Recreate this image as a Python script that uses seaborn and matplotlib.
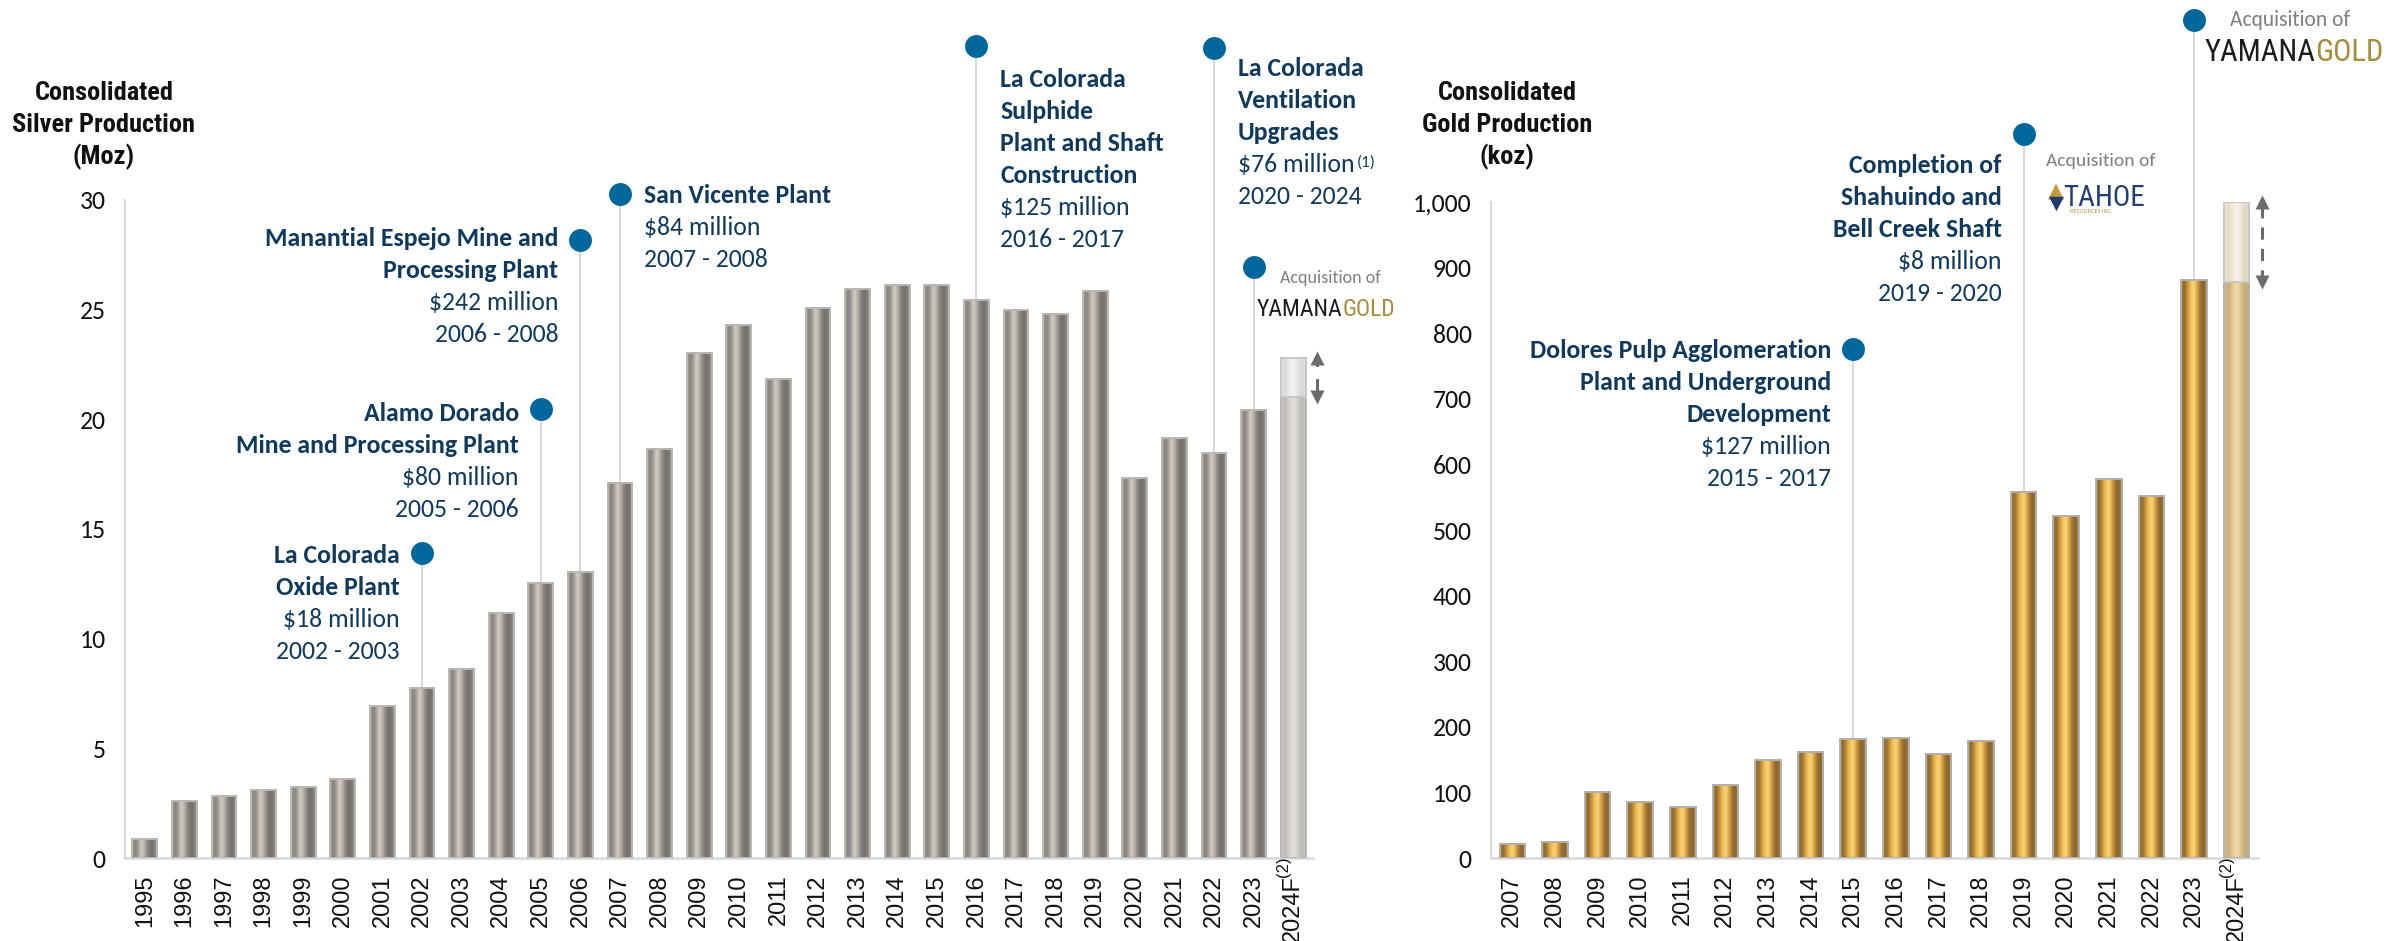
import numpy as np
import pandas as pd
import matplotlib
matplotlib.use("Agg")
import matplotlib.pyplot as plt
import seaborn as sns
from matplotlib import font_manager as fm
from matplotlib.colors import LinearSegmentedColormap
from matplotlib.transforms import offset_copy
from matplotlib.ticker import FuncFormatter

# ---------------- data ----------------
silver_years = ["1995", "1996", "1997", "1998", "1999", "2000", "2001", "2002",
                "2003", "2004", "2005", "2006", "2007", "2008", "2009", "2010",
                "2011", "2012", "2013", "2014", "2015", "2016", "2017", "2018",
                "2019", "2020", "2021", "2022", "2023", "2024F"]
silver_moz = [0.86, 2.60, 2.82, 3.10, 3.22, 3.60, 6.93, 7.75,
              8.63, 11.16, 12.52, 13.02, 17.10, 18.67, 23.03, 24.29,
              21.85, 25.08, 25.96, 26.12, 26.12, 25.42, 24.98, 24.78,
              25.87, 17.31, 19.16, 18.45, 20.44, 21.0]
silver_2024f_high = 22.8
silver_ticks = [0, 5, 10, 15, 20, 25, 30]

gold_years = ["2007", "2008", "2009", "2010", "2011", "2012", "2013", "2014",
              "2015", "2016", "2017", "2018", "2019", "2020", "2021", "2022",
              "2023", "2024F"]
gold_koz = [22, 25, 100, 86, 77, 111, 149, 161,
            182, 183, 159, 178, 558, 522, 578, 552,
            881, 878]
gold_2024f_high = 1000
gold_ticks = [0, 100, 200, 300, 400, 500, 600, 700, 800, 900, 1000]

# capital projects: (year, marker height, side, heading lines, detail lines)
silver_projects = [
    ("2002", 13.9, "left", ["La Colorada", "Oxide Plant"], ["$18 million", "2002 - 2003"]),
    ("2005", 20.47, "left", ["Alamo Dorado", "Mine and Processing Plant"], ["$80 million", "2005 - 2006"]),
    ("2006", 28.18, "left", ["Manantial Espejo Mine and", "Processing Plant"], ["$242 million", "2006 - 2008"]),
    ("2007", 30.28, "right", ["San Vicente Plant"], ["$84 million", "2007 - 2008"]),
    ("2016", 37.0, "right", ["La Colorada", "Sulphide", "Plant and Shaft", "Construction"],
     ["$125 million", "2016 - 2017"]),
    ("2022", 36.95, "right", ["La Colorada", "Ventilation", "Upgrades"], ["$76 million", "2020 - 2024"]),
]
silver_footnote = ("$76 million", "(1)")
silver_acquisition = ("2023", 26.95)

gold_projects = [
    ("2015", 776, "left", ["Dolores Pulp Agglomeration", "Plant and Underground", "Development"],
     ["$127 million", "2015 - 2017"]),
    ("2019", 1103, "left", ["Completion of", "Shahuindo and", "Bell Creek Shaft"],
     ["$8 million", "2019 - 2020"]),
]
gold_acquisitions = [("2019", 1103, "TAHOE"), ("2023", 1278, "YAMANA")]

# ---------------- style ----------------
sns.set_style("white")
installed = {f.name for f in fm.fontManager.ttflist}


def pick(*names):
    for n in names:
        if n in installed:
            return n
    return "DejaVu Sans"


BODY = pick("Carlito", "Lato", "Open Sans")
NARROW = pick("Liberation Sans Narrow", "Roboto Condensed", "Open Sans Condensed",
              "DejaVu Sans Condensed", "Liberation Sans")
AXISF = pick("Liberation Sans", "Arimo", "DejaVu Sans")
plt.rcParams["font.family"] = [BODY, "DejaVu Sans"]

NAVY = "#0f3a5e"
DOT = "#00679d"
LEADER = "#d4d4d4"
SPINE = "#d9d9d9"
PX = 0.72  # points per pixel at 100 dpi

BODY_SIZE = 18.5 if BODY == "Carlito" else 16.5

cm_silver = LinearSegmentedColormap.from_list("silver", [
    "#a9a6a2", "#85817c", "#a39e98", "#d6cec5", "#b7b1aa", "#8c8782",
    "#76726e", "#7b7874", "#a3a09d"])
cm_gold = LinearSegmentedColormap.from_list("gold", [
    "#a98549", "#8c682e", "#c8943c", "#f1c257", "#f8d67a", "#d9a144",
    "#9b7234", "#8a652f", "#a88a55"])
cm_silver_f = LinearSegmentedColormap.from_list("silver_f", [
    "#cfcdcb", "#bdbbb8", "#d5d1cc", "#e6e2de", "#d0ceca", "#bab8b5", "#c8c6c4"])
cm_silver_fh = LinearSegmentedColormap.from_list("silver_fh", [
    "#e4e4e4", "#d9d9d9", "#ebebeb", "#f4f4f4", "#e4e4e4", "#d6d6d6", "#e2e2e2"])
cm_gold_f = LinearSegmentedColormap.from_list("gold_f", [
    "#d6c49f", "#c8ad78", "#e2cb94", "#f0dcaa", "#dcc189", "#c4a873", "#d1bd98"])
cm_gold_fh = LinearSegmentedColormap.from_list("gold_fh", [
    "#eee7da", "#e4d9c4", "#f1e9d9", "#f8f2e8", "#ece3d2", "#e0d4bf", "#ebe3d5"])
GRAD = np.linspace(0, 1, 256).reshape(1, -1)

W, H = 2399, 941
fig = plt.figure(figsize=(W / 100, H / 100), dpi=100)
ax_s = fig.add_axes([125 / W, 83 / H, 1188 / W, 658 / H])
ax_g = fig.add_axes([1491 / W, 83 / H, 767 / W, 656 / H])


def shade(ax, patch, cmap, edge="#b8b8b8"):
    x0, w = patch.get_x(), patch.get_width()
    y0, h = patch.get_y(), patch.get_height()
    ax.imshow(GRAD, cmap=cmap, extent=(x0, x0 + w, y0, y0 + h), aspect="auto",
              interpolation="bicubic", zorder=2)
    patch.set_facecolor("none")
    patch.set_edgecolor(edge)
    patch.set_linewidth(1.4)
    patch.set_zorder(3)


def draw_bars(ax, years, values, high, width, cm, cm_f, cm_fh, edge):
    df = pd.DataFrame({"year": years, "value": values})
    sns.barplot(data=df, x="year", y="value", order=years, color="#999999",
                width=width, errorbar=None, ax=ax)
    bars = list(ax.patches)
    for p in bars[:-1]:
        shade(ax, p, cm, edge)
    shade(ax, bars[-1], cm_f, edge)
    i = len(years) - 1
    top = ax.bar(i, high - values[-1], bottom=values[-1], width=width)[0]
    shade(ax, top, cm_fh, "#c8c8c8")
    return i


def style_axis(ax, n, ymax, ticks):
    ax.set_xlim(-0.5, n - 0.5)
    ax.set_ylim(0, ymax)
    ax.set_yticks(ticks)
    ax.yaxis.set_major_formatter(FuncFormatter(lambda v, _: f"{v:,.0f}"))
    for s in ("top", "right"):
        ax.spines[s].set_visible(False)
    ax.spines["left"].set_color(SPINE)
    ax.spines["left"].set_linewidth(1.5)
    ax.spines["bottom"].set_color(SPINE)
    ax.spines["bottom"].set_linewidth(1.8)
    ax.tick_params(axis="y", length=6, width=1.3, color=SPINE, pad=8,
                   labelsize=BODY_SIZE, labelcolor="#111111")
    ax.tick_params(axis="x", length=0, pad=12, labelsize=17, labelcolor="#111111",
                   labelrotation=90)
    for lab in ax.get_xticklabels():
        lab.set_fontfamily(AXISF)
    ax.set_xlabel("")
    ax.set_ylabel("")


def text_at(ax, x, y, s, dx_px, dy_px, **kw):
    tr = offset_copy(ax.transData, fig=fig, x=dx_px * PX, y=dy_px * PX, units="points")
    return ax.text(x, y, s, transform=tr, clip_on=False, **kw)


def marker(ax, x, bar_top, y):
    ax.plot([x, x], [bar_top, y], color=LEADER, lw=1.3, zorder=1, clip_on=False)
    ax.plot([x], [y], "o", ms=16.5, color=DOT, mec="none", zorder=6, clip_on=False)


def callout(ax, years, values, spec, dy0, step):
    year, y, side, heads, details = spec
    i = years.index(year)
    marker(ax, i, values[i], y)
    ha = "right" if side == "left" else "left"
    dx = -22 if side == "left" else 24
    lines = [(t, "bold") for t in heads] + [(t, "normal") for t in details]
    out = {}
    for k, (t, wt) in enumerate(lines):
        out[t] = text_at(ax, i, y, t, dx, dy0 - k * step, ha=ha, va="center_baseline",
                         fontsize=BODY_SIZE, fontweight=wt, color=NAVY, zorder=7)
    return out


def logo_yamana(ax, x, y, dx, dy, size):
    t = text_at(ax, x, y, "YAMANA", dx, dy, ha="left", va="center_baseline",
                fontsize=size, family=NARROW, stretch="condensed", color="#1c1c1c", zorder=7)
    ax.annotate("GOLD", xy=(1, 0), xycoords=t, ha="left", va="bottom",
                fontsize=size, family=NARROW, stretch="condensed", color="#a68d3c",
                annotation_clip=False)


def double_arrow(ax, x, lo, hi, dashed):
    ax.plot([x, x], [lo, hi], color="#6b6b6b", lw=2.2,
            ls=(0, (4, 3)) if dashed else (0, (6, 4)), zorder=4, clip_on=False)
    ax.plot([x], [hi], marker="^", ms=10, color="#6b6b6b", mec="none", zorder=5, clip_on=False)
    ax.plot([x], [lo], marker="v", ms=10, color="#6b6b6b", mec="none", zorder=5, clip_on=False)


# ---------------- silver ----------------
fi = draw_bars(ax_s, silver_years, silver_moz, silver_2024f_high, 0.63,
               cm_silver, cm_silver_f, cm_silver_fh, "#b9b6b3")
style_axis(ax_s, len(silver_years), 30, silver_ticks)
double_arrow(ax_s, fi + 0.6, silver_moz[-1], silver_2024f_high, False)

layouts_s = {"2002": (0, 32), "2005": (-2, 32), "2006": (3, 32), "2007": (0, 32),
             "2016": (-31, 32), "2022": (-19, 32)}
for spec in silver_projects:
    dy0, step = layouts_s[spec[0]]
    texts = callout(ax_s, silver_years, silver_moz, spec, dy0, step)
    line, note = silver_footnote
    if line in texts:
        # superscript note just right of the cost line, level with its digits
        ax_s.annotate(note, xy=(1, 0.92), xycoords=texts[line], xytext=(1.5, 0),
                      textcoords="offset points", ha="left", va="top",
                      fontsize=BODY_SIZE * 0.66, color=NAVY, annotation_clip=False)

yr, yd = silver_acquisition
ia = silver_years.index(yr)
marker(ax_s, ia, silver_moz[ia], yd)
text_at(ax_s, ia, yd, "Acquisition of", 26, -10, ha="left", va="center_baseline",
        fontsize=13, color="#7f7f7f", zorder=7)
logo_yamana(ax_s, ia, yd, 3, -40, 17)

ax_s.annotate("(2)", xy=(fi, 0), xycoords=("data", "axes fraction"),
              xytext=(-10 * PX, -9 * PX), textcoords="offset points", rotation=90,
              ha="center", va="center", fontsize=12, family=AXISF, color="#111111",
              annotation_clip=False)

# ---------------- gold ----------------
gi = draw_bars(ax_g, gold_years, gold_koz, gold_2024f_high, 0.6,
               cm_gold, cm_gold_f, cm_gold_fh, "#b3b0ab")
style_axis(ax_g, len(gold_years), 1000, gold_ticks)
double_arrow(ax_g, gi + 0.6, gold_koz[-1], gold_2024f_high, True)

layouts_g = {"2015": (0, 32), "2019": (-29, 32)}
for spec in gold_projects:
    dy0, step = layouts_g[spec[0]]
    callout(ax_g, gold_years, gold_koz, spec, dy0, step)

for yr, yd, name in gold_acquisitions:
    i = gold_years.index(yr)
    if name == "YAMANA":
        marker(ax_g, i, gold_koz[i], yd)
        text_at(ax_g, i, yd, "Acquisition of", 36, 2, ha="left", va="center_baseline",
                fontsize=15.5, color="#7f7f7f", zorder=7)
        logo_yamana(ax_g, i, yd, 10, -30, 22)
    else:
        text_at(ax_g, i, yd, "Acquisition of", 22, -25, ha="left", va="center_baseline",
                fontsize=14, color="#7f7f7f", zorder=7)
        # Tahoe Resources mark: gold peak over a navy keel, then the name
        text_at(ax_g, i, yd, "\u25B2", 24, -55, ha="left", va="center_baseline",
                fontsize=15, color="#c49a3c", family="DejaVu Sans", zorder=7)
        text_at(ax_g, i, yd, "\u25BC", 25, -67, ha="left", va="center_baseline",
                fontsize=14, color="#1f3a6b", family="DejaVu Sans", zorder=7)
        text_at(ax_g, i, yd, "TAHOE", 40, -61, ha="left", va="center_baseline",
                fontsize=21, family=NARROW, stretch="condensed", color="#243f73", zorder=7)
        text_at(ax_g, i, yd, "RESOURCES INC.", 46, -77, ha="left", va="center_baseline",
                fontsize=4.5, color="#b99b4a", zorder=7)

ax_g.annotate("(2)", xy=(gi, 0), xycoords=("data", "axes fraction"),
              xytext=(-10 * PX, -9 * PX), textcoords="offset points", rotation=90,
              ha="center", va="center", fontsize=12, family=AXISF, color="#111111",
              annotation_clip=False)

# ---------------- titles ----------------
for cx, lines in ((104, ["Consolidated", "Silver Production", "(Moz)"]),
                  (1507, ["Consolidated", "Gold Production", "(koz)"])):
    for k, t in enumerate(lines):
        fig.text(cx / W, 1 - (93 + 32 * k) / H, t, ha="center", va="center",
                 fontsize=19, fontweight="bold", family=NARROW, stretch="condensed",
                 color="#111111")

fig.savefig("out.png", dpi=100, facecolor="white")
